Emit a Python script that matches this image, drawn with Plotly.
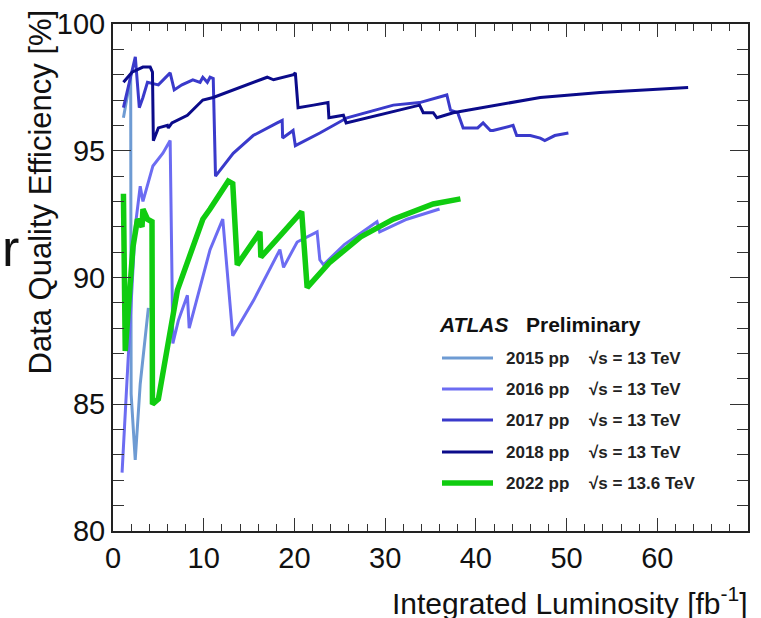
import plotly.graph_objects as go

# ---- data ----
x2015 = [1.15, 1.95, 2.0, 2.45, 3.0, 3.9]
y2015 = [96.3, 97.9, 85.4, 82.8, 85.8, 88.8]

x2016 = [1.0, 2.45, 3.0, 3.3, 4.4, 5.5, 6.3, 6.6, 7.2, 8.2, 8.4, 10.7, 12.1, 13.2,
         15.5, 18.4, 18.8, 20.3, 22.5, 22.8, 23.2, 25.5, 29.1, 29.4, 32.4, 35.3, 36.0]
y2016 = [82.3, 92.0, 93.6, 93.0, 94.4, 94.9, 95.4, 87.4, 88.3, 89.3, 88.0, 91.1, 92.3, 87.7,
         89.1, 91.1, 90.4, 91.4, 91.8, 90.7, 90.5, 91.3, 92.2, 91.8, 92.3, 92.6, 92.7]

x2017 = [1.15, 2.46, 2.9, 3.3, 3.8, 5.0, 6.3, 6.75, 7.6, 8.8, 9.6, 9.9, 10.4, 10.7, 11.05,
         11.3, 13.25, 15.45, 18.1, 18.65, 18.7, 19.85, 20.1, 22.8, 25.8, 30.9, 33.8, 36.8,
         37.2, 38.0, 38.6, 40.2, 40.8, 41.6, 41.9, 44.1, 44.5, 46.0, 47.1, 47.6, 48.7, 50.2]
y2017 = [96.7, 98.7, 96.7, 97.1, 97.7, 97.6, 98.07, 97.4, 97.6, 97.8, 97.7, 97.9, 97.7, 97.9, 97.85,
         94.0, 94.9, 95.6, 96.1, 96.2, 95.5, 95.8, 95.2, 95.7, 96.3, 96.8, 96.9, 97.2,
         96.6, 96.5, 95.9, 95.9, 96.1, 95.8, 95.8, 96.0, 95.6, 95.6, 95.5, 95.4, 95.6, 95.7]

x2018 = [1.15, 2.1, 3.3, 4.1, 4.35, 4.45, 5.0, 6.0, 6.1, 6.5, 8.2, 9.9, 11.05, 14.0, 17.0,
         17.7, 19.9, 20.1, 20.4, 22.1, 23.7, 23.8, 25.4, 25.7, 33.8, 34.2, 35.3, 35.7, 37.5,
         47.1, 53.7, 63.4]
y2018 = [97.7, 98.1, 98.3, 98.3, 98.1, 95.4, 95.9, 96.0, 95.9, 96.1, 96.4, 97.0, 97.1, 97.5, 97.9,
         97.8, 98.0, 98.07, 96.7, 96.8, 96.9, 96.3, 96.4, 96.1, 96.8, 96.5, 96.5, 96.3, 96.5,
         97.1, 97.3, 97.5]

x2022 = [1.15, 1.35, 2.2, 2.7, 3.2, 3.3, 3.8, 4.3, 4.35, 5.0, 7.1, 9.9, 10.7, 12.7, 13.2,
         13.7, 16.2, 16.3, 20.8, 21.4, 23.9, 27.3, 30.9, 32.4, 35.3, 38.3]
y2022 = [93.3, 87.1, 91.2, 92.3, 92.0, 92.7, 92.3, 92.2, 85.0, 85.2, 89.5, 92.3, 92.7, 93.8, 93.7,
         90.5, 91.8, 90.8, 92.6, 89.6, 90.6, 91.6, 92.3, 92.5, 92.9, 93.1]

years = ["2015 pp", "2016 pp", "2017 pp", "2018 pp", "2022 pp"]
energies = ["13", "13", "13", "13", "13.6"]
xs_all = [x2015, x2016, x2017, x2018, x2022]
ys_all = [y2015, y2016, y2017, y2018, y2022]
colors = ["#6E9BD3", "#6C6CF2", "#3A3ACB", "#0B0B8A", "#10CC10"]
widths = [3, 3, 3, 3, 5.5]

# plot-area geometry in pixels (for paper-coordinate placement of text/legend)
W, H = 761, 618
L, R, T, B = 113, 13, 24, 87
PW, PH = W - L - R, H - T - B


def px(xp):
    return (xp - L) / PW


def py(yp):
    return (H - B - yp) / PH


fig = go.Figure()
for name, xs, ys, col, w in zip(years, xs_all, ys_all, colors, widths):
    fig.add_trace(go.Scatter(x=xs, y=ys, mode="lines", name=name,
                             line=dict(color=col, width=w), showlegend=False))

FONT = "Liberation Sans, Arial, sans-serif"
axis_common = dict(showline=True, linecolor="#222", linewidth=2, mirror="ticks",
                   ticks="inside", tickcolor="#333", tickwidth=1.2,
                   showgrid=False, zeroline=False, automargin=False,
                   tickfont=dict(family=FONT, size=29, color="#111"))

fig.update_layout(
    width=W, height=H,
    margin=dict(l=L, r=R, t=T, b=B),
    paper_bgcolor="white", plot_bgcolor="white",
    showlegend=False,
    xaxis=dict(range=[0, 70], dtick=10, ticklen=13,
               minor=dict(dtick=2, ticklen=7, ticks="inside", tickcolor="#333"),
               **axis_common),
    yaxis=dict(range=[80, 100], dtick=5, ticklen=18,
               minor=dict(dtick=1, ticklen=11, ticks="inside", tickcolor="#333"),
               **axis_common),
)

# ---- manual legend ----
leg_y = [358, 389, 420, 452, 483]
for yy, name, en, col, w in zip(leg_y, years, energies, colors, widths):
    fig.add_shape(type="line", xref="paper", yref="paper",
                  x0=px(442), x1=px(493), y0=py(yy), y1=py(yy),
                  line=dict(color=col, width=w))
    fig.add_annotation(text=f"<b>{name}</b>", xref="paper", yref="paper",
                       x=px(504), y=py(yy), xanchor="left", yanchor="middle",
                       showarrow=False, font=dict(family=FONT, size=17, color="#222"))
    fig.add_annotation(text=f"<b>√s = {en} TeV</b>", xref="paper", yref="paper",
                       x=px(587), y=py(yy), xanchor="left", yanchor="middle",
                       showarrow=False, font=dict(family=FONT, size=17, color="#222"))

fig.add_annotation(text="<i><b>ATLAS</b></i>", xref="paper", yref="paper",
                   x=px(437), y=py(324), xanchor="left", yanchor="middle", showarrow=False,
                   font=dict(family=FONT, size=21, color="#111"))
fig.add_annotation(text="<b>Preliminary</b>", xref="paper", yref="paper",
                   x=px(524), y=py(324), xanchor="left", yanchor="middle", showarrow=False,
                   font=dict(family=FONT, size=21, color="#111"))

fig.add_annotation(text="Integrated Luminosity [fb<sup>-1</sup>]",
                   xref="paper", yref="paper", x=px(750), y=py(601),
                   xanchor="right", yanchor="middle", showarrow=False,
                   font=dict(family=FONT, size=30, color="#111"))

fig.add_annotation(text="Data Quality Efficiency [%]", textangle=-90,
                   xref="paper", yref="paper", x=px(40), y=py(8),
                   xanchor="center", yanchor="top", showarrow=False,
                   font=dict(family=FONT, size=31, color="#111"))

fig.add_annotation(text="r", xref="paper", yref="paper",
                   x=px(0), y=py(248),
                   xanchor="left", yanchor="middle", showarrow=False,
                   font=dict(family=FONT, size=52, color="#111"))

fig.write_html("out.html", config={"displayModeBar": False},
               post_script="document.body.style.margin='0px';document.body.style.overflow='hidden';")
